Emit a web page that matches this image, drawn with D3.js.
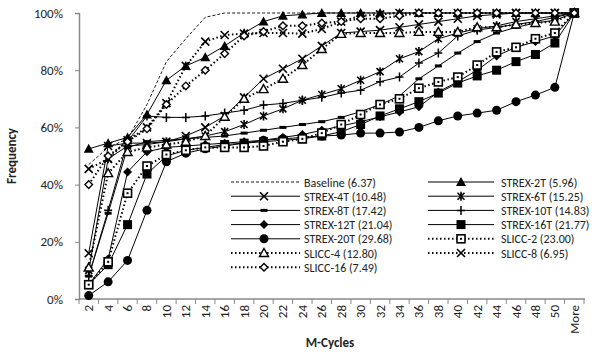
<!DOCTYPE html>
<html><head><meta charset="utf-8">
<script src="https://cdn.jsdelivr.net/npm/d3@7"></script>
<style>
body{margin:0;background:#fff;}
text{font-family:Carlito,Calibri,Lato,"Liberation Sans",sans-serif;}
</style></head>
<body><svg id="c" width="598" height="356"></svg>
<script>
const categories = ["2","4","6","8","10","12","14","16","18","20","22","24","26","28","30","32","34","36","38","40","42","44","46","48","50","More"];
const seriesNames = ["Baseline (6.37)","STREX-2T (5.96)","STREX-4T (10.48)","STREX-6T (15.25)","STREX-8T (17.42)","STREX-10T (14.83)","STREX-12T (21.04)","STREX-16T (21.77)","STREX-20T (29.68)","SLICC-2 (23.00)","SLICC-4 (12.80)","SLICC-8 (6.95)","SLICC-16 (7.49)"];
const yTicks = [0,20,40,60,80,100];
// values in percent
const baseline = [47,53,56,68,83,91,98.5,100,100,100,100,100,100,100,100,100,100,100,100,100,100,100,100,100,100,100];
const strex2T  = [52.5,54.5,56.5,64.5,76.5,81.5,84.5,88.5,93,97,99,99.5,100,100,100,100,100,100,100,100,100,100,100,100,100,100];
const strex4T  = [16,53.5,54.5,54.5,55,57,60,64,70.5,77,80.5,84,88.5,93,93.5,94,95,96,97,98,99,99.5,100,100,100,100];
const strex6T  = [10,49,53.5,54,55,56,57,58.5,61,64,66.5,69.5,71.5,73.5,76.5,79.5,84,86.5,91,93,94.5,95.5,97,98,99,100];
const strex8T  = [8,30,53,55,55.5,56,56.5,57,58,59,60,61,62,63.5,65.5,68,71,77,81.5,86,90,93,95,96.5,97.5,100];
const strex10T = [8,31,55,64,63.5,63.5,64,65,66,67.8,68.4,69.5,70.5,72,73,76,77.6,82.5,86,92,94,95,96,97,98.5,100];
const strex12T = [5,14,44.4,51.5,53,53.5,54,54.5,55,55.5,56.5,57.5,59,60.5,62,63.7,65.4,67.2,72.4,76,80,85,88,90,92,100];
const strex16T = [5,12,26,43.7,50,52,53,54,54.5,55,55.5,56,57,58.5,61,64,66.5,69,72,75.5,78,80,83,85.5,89.5,100];
const strex20T = [1.2,6,13.5,31,48,51,52.5,53.5,54.5,55.5,56,56.5,57,57.3,58,58,58.4,60,62.3,64,65,66,69,71.3,74,100];
const slicc2   = [5,13,37,46.5,50.5,52,53,53,53,53.5,55,56,58,61,64.5,68,70,73.7,75.9,77.6,81.8,86.4,88,91,93,100];
const slicc4   = [11,44,51.4,53,54,55,57,63.7,70,73.4,77,81.8,87.4,92.7,93,93,93,93.4,93.4,93.4,95,95,96,96.5,97,100];
const slicc8   = [45.5,49,55.5,60,68.5,81.5,90,92.3,92.8,93,93,92.8,94.4,97,99,99.5,100,100,100,100,100,100,100,100,100,100];
const slicc16  = [40,50,55,59.5,68,74.5,80,85.8,92,93.5,95.5,95.5,96.5,97,98,98,99,100,100,100,100,100,100,100,100,100];

const dataSets = [baseline,strex2T,strex4T,strex6T,strex8T,strex10T,strex12T,strex16T,strex20T,slicc2,slicc4,slicc8,slicc16];
const styles = [
 {dash:"3,2", w:0.9, m:null},
 {dash:null, w:1, m:"tri"},
 {dash:null, w:1, m:"x"},
 {dash:null, w:1, m:"ast"},
 {dash:null, w:1, m:"dash"},
 {dash:null, w:1, m:"plus"},
 {dash:null, w:1, m:"dia"},
 {dash:null, w:1, m:"sq"},
 {dash:null, w:1, m:"circ"},
 {dash:"1.5,2.5", w:2, m:"sqo"},
 {dash:"1.5,2.5", w:2, m:"trio"},
 {dash:"1.5,2.5", w:2, m:"x"},
 {dash:"1.5,2.5", w:2, m:"diao"}
];

const svg = d3.select("#c");
const x = d3.scaleBand().domain(categories).range([79,584]);
const y = d3.scaleLinear().domain([0,100]).range([299,13]);
const cx = c => x(c) + x.bandwidth()/2;

function marker(g, type, px, py){
  const s = g.append("g").attr("transform",`translate(${px},${py})`);
  switch(type){
    case "tri": s.append("path").attr("d","M0,-5L5,4L-5,4Z").attr("fill","#000"); break;
    case "trio": s.append("path").attr("d","M0,-4.5L4.5,3.5L-4.5,3.5Z").attr("fill","#fff").attr("stroke","#000").attr("stroke-width",1.4); break;
    case "x": s.append("path").attr("d","M-4,-4L4,4M-4,4L4,-4").attr("stroke","#000").attr("stroke-width",1.6); break;
    case "ast": s.append("path").attr("d","M-3.5,-3.5L3.5,3.5M-3.5,3.5L3.5,-3.5M0,-4.5L0,4.5").attr("stroke","#000").attr("stroke-width",1.6); break;
    case "plus": s.append("path").attr("d","M-4,0L4,0M0,-4.5L0,4.5").attr("stroke","#000").attr("stroke-width",1.5); break;
    case "dash": s.append("rect").attr("x",-3.5).attr("y",-1.5).attr("width",7).attr("height",3).attr("fill","#000"); break;
    case "dia": s.append("path").attr("d","M0,-4.5L4.5,0L0,4.5L-4.5,0Z").attr("fill","#000"); break;
    case "diao": s.append("path").attr("d","M0,-3.8L3.8,0L0,3.8L-3.8,0Z").attr("fill","#fff").attr("stroke","#000").attr("stroke-width",1.4); break;
    case "sq": s.append("rect").attr("x",-4.5).attr("y",-4.5).attr("width",9).attr("height",9).attr("fill","#000"); break;
    case "sqo":
      s.append("rect").attr("x",-4).attr("y",-4).attr("width",8).attr("height",8).attr("fill","#fff").attr("stroke","#000").attr("stroke-width",1.6);
      s.append("rect").attr("x",-1).attr("y",-1).attr("width",2).attr("height",2).attr("fill","#000"); break;
    case "circ": s.append("circle").attr("r",4.5).attr("fill","#000"); break;
  }
}

// axes
const yAxis = svg.append("g").attr("transform","translate(79,0)")
  .call(d3.axisLeft(y).tickValues(yTicks).tickFormat(d=>d+"%").tickSize(4).tickPadding(12));
yAxis.select(".domain").attr("stroke","#888").attr("stroke-width",1.5);
yAxis.selectAll(".tick line").attr("stroke","#888");
yAxis.selectAll("text").attr("font-size",13).attr("fill","#222").style("font-family","Carlito,Calibri,Lato,sans-serif");

const xg = svg.append("g").attr("transform","translate(0,299)");
xg.append("line").attr("x1",79).attr("x2",585).attr("y1",0).attr("y2",0).attr("stroke","#888").attr("stroke-width",1.5);
const bounds = categories.map(c=>x(c)).concat([x(categories[categories.length-1])+x.bandwidth()]);
xg.selectAll(".bt").data(bounds).enter().append("line")
  .attr("x1",d=>d).attr("x2",d=>d).attr("y1",0).attr("y2",5).attr("stroke","#888");
xg.selectAll(".lbl").data(categories).enter().append("text")
  .attr("transform",c=>`translate(${cx(c)+4.5},6) rotate(-90)`)
  .attr("text-anchor","end").attr("font-size",13).attr("fill","#222").text(c=>c);

svg.append("text").attr("transform","translate(16,156) rotate(-90)").attr("text-anchor","middle")
  .attr("font-size",13).attr("font-weight","bold").attr("fill","#222").text("Frequency");
svg.append("text").attr("x",330).attr("y",347).attr("text-anchor","middle")
  .attr("font-size",13).attr("font-weight","bold").attr("fill","#222").text("M-Cycles");

// series
const line = d3.line().x((d,i)=>cx(categories[i])).y(d=>y(d));
dataSets.forEach((vals,k)=>{
  const st = styles[k];
  svg.append("path").datum(vals).attr("d",line).attr("fill","none").attr("stroke","#000")
    .attr("stroke-width",st.w).attr("stroke-dasharray",st.dash);
});
dataSets.forEach((vals,k)=>{
  const st = styles[k];
  if(!st.m) return;
  const g = svg.append("g");
  vals.forEach((v,i)=>marker(g, st.m, cx(categories[i]), y(v)));
});

// legend
const lg = svg.append("g");
seriesNames.forEach((name,k)=>{
  const col = k%2, row = Math.floor(k/2);
  const x0 = col===0 ? 231 : 428, x1 = col===0 ? 300 : 494, mx = col===0 ? 264 : 461, tx = col===0 ? 304 : 501;
  const yy = 182 + row*14.2;
  const st = styles[k];
  lg.append("line").attr("x1",x0).attr("x2",x1).attr("y1",yy).attr("y2",yy).attr("stroke","#000")
    .attr("stroke-width",st.w).attr("stroke-dasharray",st.dash);
  if(st.m) marker(lg, st.m, mx, yy);
  lg.append("text").attr("x",tx).attr("y",yy+4.5).attr("font-size",12).attr("fill","#222").text(name);
});
</script></body></html>
